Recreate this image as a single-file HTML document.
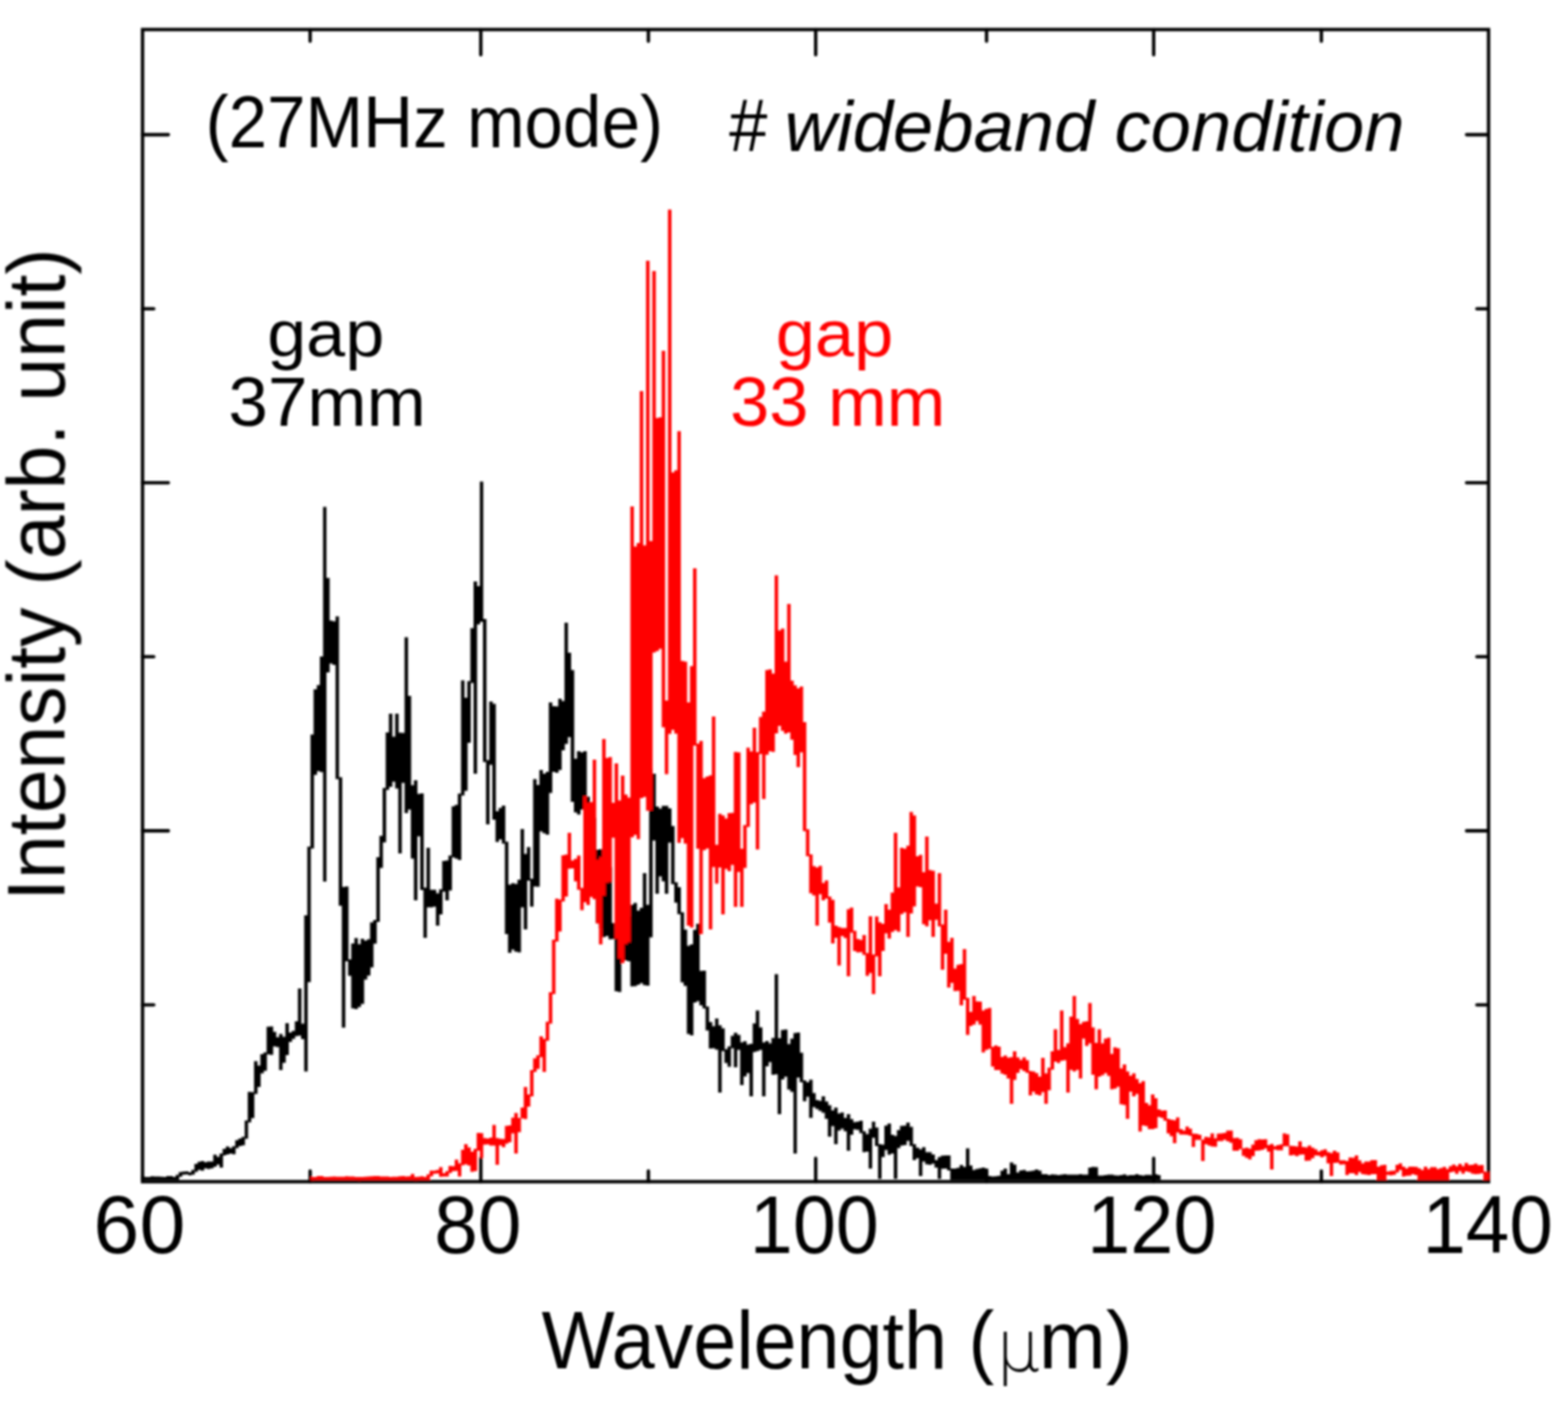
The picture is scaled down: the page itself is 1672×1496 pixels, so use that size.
<!DOCTYPE html>
<html><head><meta charset="utf-8"><title>Wavelength spectrum</title>
<style>
html,body{margin:0;padding:0;background:#fff;}
svg{display:block;}
text{font-family:"Liberation Sans",Arial,sans-serif;fill:#000;}
</style></head>
<body>
<svg width="1672" height="1496" viewBox="0 0 1672 1496">
<defs><filter id="soft" x="0" y="0" width="1672" height="1496" filterUnits="userSpaceOnUse"><feGaussianBlur stdDeviation="1.00"/></filter></defs>
<rect x="0" y="0" width="1672" height="1496" fill="#fff"/>
<g filter="url(#soft)">
<rect x="152.0" y="31.5" width="1435.3" height="1228.5" fill="none" stroke="#000" stroke-width="3.6"/>
<path d="M512.7 31.5V58.5M512.7 1260.0V1235.0M869.8 31.5V58.5M869.8 1260.0V1235.0M1230.2 31.5V58.5M1230.2 1260.0V1235.0M330.7 31.5V44.0M330.7 1260.0V1248.5M691.4 31.5V44.0M691.4 1260.0V1248.5M1052.0 31.5V44.0M1052.0 1260.0V1248.5M1409.0 31.5V44.0M1409.0 1260.0V1248.5M152.0 143.6H179.6M1587.3 143.6H1563.8M152.0 514.8H179.6M1587.3 514.8H1563.8M152.0 885.9H179.6M1587.3 885.9H1563.8M152.0 329.2H164.0M1587.3 329.2H1574.8M152.0 700.3H164.0M1587.3 700.3H1574.8M152.0 1071.5H164.0M1587.3 1071.5H1574.8" fill="none" stroke="#000" stroke-width="3.6" stroke-linecap="round"/>
<path d="M150.5 1254.2H154.2V1258.2H150.5ZM153.8 1255.0H157.5V1258.3H153.8ZM157.2 1254.9H160.9V1258.2H157.2ZM160.5 1254.3H164.2V1258.2H160.5ZM163.9 1254.6H167.6V1258.2H163.9ZM167.2 1254.6H170.9V1258.2H167.2ZM170.6 1254.8H174.3V1258.2H170.6ZM173.9 1254.9H177.6V1258.2H173.9ZM177.3 1254.1H180.9V1258.2H177.3ZM180.6 1254.0H184.3V1258.2H180.6ZM183.9 1255.0H187.6V1258.3H183.9ZM187.3 1252.8H191.0V1258.2H187.3ZM190.6 1249.8H194.3V1254.8H190.6ZM194.0 1249.2H197.7V1252.5H194.0ZM197.3 1248.9H201.0V1252.2H197.3ZM200.7 1249.9H204.4V1253.2H200.7ZM204.0 1247.4H207.7V1252.4H204.0ZM207.3 1241.1H211.0V1249.4H207.3ZM210.7 1238.7H214.4V1247.6H210.7ZM214.0 1238.1H217.7V1248.3H214.0ZM217.4 1239.2H221.1V1245.7H217.4ZM220.7 1238.6H224.4V1246.4H220.7ZM224.1 1238.6H227.8V1245.8H224.1ZM227.4 1231.2H231.1V1243.9H227.4ZM230.8 1233.5H234.4V1241.7H230.8ZM234.1 1230.1H237.8V1245.0H234.1ZM237.4 1225.0H241.1V1232.1H237.4ZM240.8 1222.4H244.5V1231.0H240.8ZM244.1 1224.2H247.8V1229.9H244.1ZM247.5 1222.3H251.2V1230.7H247.5ZM250.8 1215.7H254.5V1224.3H250.8ZM254.2 1214.0H257.9V1222.1H254.2ZM257.5 1212.3H261.2V1221.2H257.5ZM260.9 1194.8H264.5V1214.3H260.9ZM264.2 1164.3H267.9V1196.8H264.2ZM267.5 1164.6H271.2V1192.3H267.5ZM270.9 1131.6H274.6V1166.6H270.9ZM274.2 1136.3H277.9V1158.9H274.2ZM277.6 1124.0H281.3V1144.4H277.6ZM280.9 1122.3H284.6V1141.7H280.9ZM284.3 1094.7H288.0V1124.3H284.3ZM287.6 1094.4H291.3V1124.7H287.6ZM290.9 1100.3H294.6V1115.8H290.9ZM294.3 1105.9H298.0V1116.4H294.3ZM297.6 1102.4H301.3V1141.0H297.6ZM301.0 1105.5H304.7V1133.2H301.0ZM304.3 1090.9H308.0V1125.1H304.3ZM307.7 1100.9H311.4V1111.0H307.7ZM311.0 1099.3H314.7V1107.7H311.0ZM314.4 1089.0H318.1V1104.8H314.4ZM317.7 1054.0H321.4V1104.2H317.7ZM321.0 1091.6H324.7V1108.0H321.0ZM324.4 976.1H328.1V1142.6H324.4ZM327.7 902.7H331.4V1047.3H327.7ZM331.1 783.3H334.8V904.7H331.1ZM334.4 735.1H338.1V826.2H334.4ZM337.8 730.5H341.5V822.2H337.8ZM341.1 700.1H344.8V823.2H341.1ZM344.5 540.6H348.1V940.0H344.5ZM347.8 616.2H351.5V716.9H347.8ZM351.1 661.8H354.8V707.4H351.1ZM354.5 662.5H358.2V708.9H354.5ZM357.8 657.3H361.5V830.8H357.8ZM361.2 828.8H364.9V965.7H361.2ZM364.5 945.7H368.2V1095.7H364.5ZM367.9 945.2H371.6V1025.0H367.9ZM371.2 1023.0H374.9V1040.5H371.2ZM374.5 1006.1H378.2V1075.3H374.5ZM377.9 1000.2H381.6V1075.9H377.9ZM381.2 1006.8H384.9V1073.8H381.2ZM384.6 1001.0H388.3V1070.4H384.6ZM387.9 1003.1H391.6V1044.4H387.9ZM391.3 1001.4H395.0V1040.3H391.3ZM394.6 983.5H398.3V1031.5H394.6ZM398.0 980.9H401.7V1006.2H398.0ZM401.3 913.9H405.0V982.9H401.3ZM404.6 891.2H408.3V925.5H404.6ZM408.0 840.3H411.7V898.3H408.0ZM411.3 781.0H415.0V842.3H411.3ZM414.7 761.0H418.4V839.1H414.7ZM418.0 785.5H421.7V833.6H418.0ZM421.4 761.0H425.1V840.8H421.4ZM424.7 781.3H428.4V910.0H424.7ZM428.1 781.4H431.7V834.7H428.1ZM431.4 679.6H435.1V867.1H431.4ZM434.7 742.0H438.4V863.2H434.7ZM438.1 837.2H441.8V915.4H438.1ZM441.4 832.0H445.1V960.0H441.4ZM444.8 846.6H448.5V891.8H444.8ZM448.1 845.9H451.8V949.0H448.1ZM451.5 946.5H455.2V1000.0H451.5ZM454.8 904.0H458.5V967.4H454.8ZM458.1 948.7H461.8V967.5H458.1ZM461.5 948.7H465.2V966.8H461.5ZM464.8 952.5H468.5V987.0H464.8ZM468.2 948.2H471.9V974.9H468.2ZM471.5 917.9H475.2V950.7H471.5ZM474.9 917.4H478.6V960.0H474.9ZM478.2 912.2H481.9V949.5H478.2ZM481.6 859.8H485.2V914.2H481.6ZM484.9 858.3H488.6V915.4H484.9ZM488.2 846.2H491.9V916.9H488.2ZM491.6 725.6H495.3V848.2H491.6ZM494.9 743.9H498.6V843.3H494.9ZM498.3 726.2H502.0V792.0H498.3ZM501.6 669.7H505.3V728.2H501.6ZM505.0 619.9H508.7V825.0H505.0ZM508.3 625.1H512.0V665.8H508.3ZM511.7 513.4H515.3V663.1H511.7ZM515.0 659.9H518.7V812.5H515.0ZM518.3 810.5H522.0V879.0H518.3ZM521.7 748.1H525.4V815.5H521.7ZM525.0 750.4H528.7V874.0H525.0ZM528.4 864.9H532.1V897.8H528.4ZM531.7 861.4H535.4V895.1H531.7ZM535.1 859.1H538.8V899.6H535.1ZM538.4 897.6H542.1V996.0H538.4ZM541.7 943.2H545.4V1016.1H541.7ZM545.1 941.8H548.8V1012.6H545.1ZM548.4 942.6H552.1V1014.7H548.4ZM551.8 938.1H555.5V1015.4H551.8ZM555.1 884.0H558.8V967.6H555.1ZM558.5 910.6H562.2V991.0H558.5ZM561.8 903.2H565.5V938.9H561.8ZM565.2 936.9H568.9V966.7H565.2ZM568.5 830.7H572.2V945.2H568.5ZM571.8 837.1H575.5V945.5H571.8ZM575.2 821.1H578.9V886.5H575.2ZM578.5 825.0H582.2V888.6H578.5ZM581.9 823.1H585.6V890.0H581.9ZM585.2 749.0H588.9V845.6H585.2ZM588.6 753.0H592.3V822.9H588.6ZM591.9 753.3H595.6V823.9H591.9ZM595.3 745.0H598.9V820.9H595.3ZM598.6 747.4H602.3V799.9H598.6ZM601.9 664.0H605.6V793.2H601.9ZM605.3 696.0H609.0V786.0H605.3ZM608.6 714.4H612.3V855.0H608.6ZM612.0 808.9H615.7V866.2H612.0ZM615.3 801.0H619.0V868.5H615.3ZM618.7 802.2H622.4V863.3H618.7ZM622.0 800.9H625.7V861.8H622.0ZM625.3 849.4H629.0V873.7H625.3ZM628.7 871.7H632.4V923.4H628.7ZM632.0 872.3H635.7V921.7H632.0ZM635.4 905.9H639.1V984.1H635.4ZM638.7 905.4H642.4V989.9H638.7ZM642.1 930.8H645.8V999.3H642.1ZM645.4 927.4H649.1V998.0H645.4ZM648.8 924.8H652.5V1001.4H648.8ZM652.1 984.2H655.8V1001.3H652.1ZM655.4 998.7H659.1V1057.0H655.4ZM658.8 991.9H662.5V1057.8H658.8ZM662.1 983.8H665.8V1025.1H662.1ZM665.5 981.2H669.2V1024.0H665.5ZM668.8 977.3H672.5V1025.1H668.8ZM672.2 964.8H675.9V1051.8H672.2ZM675.5 962.7H679.2V1051.5H675.5ZM678.9 970.9H682.5V1050.0H678.9ZM682.2 967.9H685.9V1048.2H682.2ZM685.5 931.0H689.2V1050.5H685.5ZM688.9 964.8H692.6V1051.1H688.9ZM692.2 819.9H695.9V999.4H692.2ZM695.6 825.0H699.3V896.3H695.6ZM698.9 860.0H702.6V953.0H698.9ZM702.3 862.2H706.0V934.6H702.3ZM705.6 859.2H709.3V939.8H705.6ZM708.9 859.2H712.6V953.0H708.9ZM712.3 862.0H716.0V898.4H712.3ZM715.6 880.7H719.3V942.8H715.6ZM719.0 940.8H722.7V962.6H719.0ZM722.3 946.0H726.0V974.7H722.3ZM725.7 972.7H729.4V1047.5H725.7ZM729.0 991.2H732.7V1051.3H729.0ZM732.4 1008.5H736.1V1102.4H732.4ZM735.7 1007.0H739.4V1104.0H735.7ZM739.0 991.4H742.7V1069.1H739.0ZM742.4 985.0H746.1V1067.4H742.4ZM745.7 1035.3H749.4V1072.0H745.7ZM749.1 1035.0H752.8V1075.3H749.1ZM752.4 1073.3H756.1V1098.7H752.4ZM755.8 1089.8H759.5V1117.9H755.8ZM759.1 1094.2H762.8V1117.8H759.1ZM762.5 1086.0H766.1V1119.3H762.5ZM765.8 1093.2H769.5V1165.0H765.8ZM769.1 1096.6H772.8V1120.8H769.1ZM772.5 1118.8H776.2V1133.4H772.5ZM775.8 1115.7H779.5V1137.6H775.8ZM779.2 1104.5H782.9V1117.7H779.2ZM782.5 1101.3H786.2V1138.0H782.5ZM785.9 1103.6H789.6V1119.5H785.9ZM789.2 1111.6H792.9V1157.0H789.2ZM792.5 1110.3H796.2V1147.8H792.5ZM795.9 1113.8H799.6V1144.2H795.9ZM799.2 1113.1H802.9V1169.0H799.2ZM802.6 1091.2H806.3V1121.8H802.6ZM805.9 1077.6H809.6V1120.7H805.9ZM809.3 1095.5H813.0V1119.4H809.3ZM812.6 1111.5H816.3V1169.0H812.6ZM816.0 1110.0H819.7V1136.9H816.0ZM819.3 1112.6H823.0V1132.6H819.3ZM822.6 1106.8H826.3V1146.1H822.6ZM826.0 1038.8H829.7V1145.4H826.0ZM829.3 1107.1H833.0V1188.0H829.3ZM832.7 1098.3H836.4V1151.0H832.7ZM836.0 1097.7H839.7V1148.0H836.0ZM839.4 1113.2H843.1V1161.7H839.4ZM842.7 1107.5H846.4V1164.2H842.7ZM846.1 1101.4H849.7V1230.0H846.1ZM849.4 1101.0H853.1V1149.1H849.4ZM852.7 1122.4H856.4V1153.9H852.7ZM856.1 1151.9H859.8V1174.3H856.1ZM859.4 1154.0H863.1V1169.6H859.4ZM862.8 1151.2H866.5V1192.0H862.8ZM866.1 1165.5H869.8V1180.5H866.1ZM869.5 1173.1H873.2V1182.6H869.5ZM872.8 1173.8H876.5V1184.6H872.8ZM876.1 1169.1H879.8V1186.5H876.1ZM879.5 1174.6H883.2V1192.9H879.5ZM882.8 1178.5H886.5V1212.0H882.8ZM886.2 1183.9H889.9V1200.8H886.2ZM889.5 1181.0H893.2V1220.0H889.5ZM892.9 1187.2H896.6V1205.5H892.9ZM896.2 1186.3H899.9V1203.6H896.2ZM899.6 1192.1H903.2V1206.3H899.6ZM902.9 1188.0H906.6V1227.0H902.9ZM906.2 1193.2H909.9V1210.0H906.2ZM909.6 1196.5H913.3V1204.2H909.6ZM912.9 1196.0H916.6V1204.8H912.9ZM916.3 1195.0H920.0V1208.3H916.3ZM919.6 1206.3H923.3V1228.6H919.6ZM923.0 1209.2H926.7V1228.1H923.0ZM926.3 1203.5H930.0V1246.0H926.3ZM929.7 1195.9H933.3V1213.2H929.7ZM933.0 1202.2H936.7V1221.9H933.0ZM936.3 1219.9H940.0V1257.0H936.3ZM939.7 1220.5H943.4V1233.7H939.7ZM943.0 1200.2H946.7V1226.3H943.0ZM946.4 1198.0H950.1V1231.3H946.4ZM949.7 1210.0H953.4V1229.9H949.7ZM953.1 1211.3H956.8V1257.0H953.1ZM956.4 1205.0H960.1V1224.3H956.4ZM959.7 1200.4H963.4V1221.4H959.7ZM963.1 1200.3H966.8V1221.1H963.1ZM966.4 1197.0H970.1V1216.5H966.4ZM969.8 1201.4H973.5V1222.0H969.8ZM973.1 1220.0H976.8V1236.9H973.1ZM976.5 1223.8H980.2V1235.1H976.5ZM979.8 1225.4H983.5V1254.0H979.8ZM983.2 1223.2H986.9V1238.4H983.2ZM986.5 1228.6H990.2V1241.6H986.5ZM989.8 1228.6H993.5V1242.0H989.8ZM993.2 1230.9H996.9V1240.8H993.2ZM996.5 1236.9H1000.2V1245.0H996.5ZM999.9 1233.7H1003.6V1257.0H999.9ZM1003.2 1232.3H1006.9V1246.2H1003.2ZM1006.6 1231.9H1010.3V1246.0H1006.6ZM1009.9 1232.0H1013.6V1248.0H1009.9ZM1013.3 1245.9H1016.9V1258.2H1013.3ZM1016.6 1245.9H1020.3V1258.2H1016.6ZM1019.9 1245.3H1023.6V1258.2H1019.9ZM1023.3 1242.2H1027.0V1258.2H1023.3ZM1026.6 1244.3H1030.3V1258.2H1026.6ZM1030.0 1224.5H1033.7V1258.2H1030.0ZM1033.3 1242.7H1037.0V1258.2H1033.3ZM1036.7 1247.6H1040.4V1258.2H1036.7ZM1040.0 1246.5H1043.7V1258.2H1040.0ZM1043.3 1245.8H1047.0V1258.2H1043.3ZM1046.7 1245.0H1050.4V1258.2H1046.7ZM1050.0 1246.1H1053.7V1258.2H1050.0ZM1053.4 1253.9H1057.1V1258.2H1053.4ZM1056.7 1254.4H1060.4V1258.2H1056.7ZM1060.1 1254.3H1063.8V1258.2H1060.1ZM1063.4 1253.8H1067.1V1258.2H1063.4ZM1066.8 1248.2H1070.4V1258.2H1066.8ZM1070.1 1246.0H1073.8V1258.2H1070.1ZM1073.4 1252.1H1077.1V1258.2H1073.4ZM1076.8 1239.6H1080.5V1258.2H1076.8ZM1080.1 1241.7H1083.8V1258.2H1080.1ZM1083.5 1250.3H1087.2V1258.2H1083.5ZM1086.8 1248.0H1090.5V1258.2H1086.8ZM1090.2 1247.6H1093.9V1258.2H1090.2ZM1093.5 1249.1H1097.2V1258.2H1093.5ZM1096.9 1248.8H1100.5V1258.2H1096.9ZM1100.2 1248.2H1103.9V1258.2H1100.2ZM1103.5 1247.0H1107.2V1258.2H1103.5ZM1106.9 1248.3H1110.6V1258.2H1106.9ZM1110.2 1251.9H1113.9V1258.2H1110.2ZM1113.6 1251.9H1117.3V1258.2H1113.6ZM1116.9 1252.9H1120.6V1258.2H1116.9ZM1120.3 1252.3H1124.0V1258.2H1120.3ZM1123.6 1252.6H1127.3V1258.2H1123.6ZM1126.9 1252.9H1130.6V1258.2H1126.9ZM1130.3 1252.6H1134.0V1258.2H1130.3ZM1133.6 1252.1H1137.3V1258.2H1133.6ZM1137.0 1252.6H1140.7V1258.2H1137.0ZM1140.3 1252.4H1144.0V1258.2H1140.3ZM1143.7 1252.4H1147.4V1258.2H1143.7ZM1147.0 1252.4H1150.7V1258.2H1147.0ZM1150.4 1251.9H1154.0V1258.2H1150.4ZM1153.7 1252.4H1157.4V1258.2H1153.7ZM1157.0 1252.4H1160.7V1258.2H1157.0ZM1160.4 1245.1H1164.1V1258.2H1160.4ZM1163.7 1244.3H1167.4V1258.2H1163.7ZM1167.1 1244.6H1170.8V1258.2H1167.1ZM1170.4 1253.4H1174.1V1258.2H1170.4ZM1173.8 1253.5H1177.5V1258.2H1173.8ZM1177.1 1253.1H1180.8V1258.2H1177.1ZM1180.5 1252.6H1184.1V1258.2H1180.5ZM1183.8 1252.5H1187.5V1258.2H1183.8ZM1187.1 1253.3H1190.8V1258.2H1187.1ZM1190.5 1253.6H1194.2V1258.2H1190.5ZM1193.8 1253.0H1197.5V1258.2H1193.8ZM1197.2 1252.3H1200.9V1258.2H1197.2ZM1200.5 1253.5H1204.2V1258.2H1200.5ZM1203.9 1252.9H1207.6V1258.2H1203.9ZM1207.2 1252.9H1210.9V1258.2H1207.2ZM1210.5 1252.1H1214.2V1258.2H1210.5ZM1213.9 1252.9H1217.6V1258.2H1213.9ZM1217.2 1253.4H1220.9V1258.2H1217.2ZM1220.6 1252.8H1224.3V1258.2H1220.6ZM1223.9 1252.7H1227.6V1258.2H1223.9ZM1227.3 1253.2H1231.0V1258.2H1227.3ZM1230.6 1252.0H1234.3V1258.2H1230.6ZM1234.0 1252.9H1237.6V1258.2H1234.0Z" fill="#000"/>
<path d="M331.1 1255.1H334.8V1258.4H331.1ZM334.4 1255.0H338.1V1258.3H334.4ZM337.8 1254.1H341.5V1258.2H337.8ZM341.1 1254.1H344.8V1258.2H341.1ZM344.5 1255.0H348.1V1258.3H344.5ZM347.8 1254.9H351.5V1258.2H347.8ZM351.1 1254.8H354.8V1258.2H351.1ZM354.5 1254.4H358.2V1258.2H354.5ZM357.8 1254.8H361.5V1258.2H357.8ZM361.2 1254.8H364.9V1258.2H361.2ZM364.5 1254.7H368.2V1258.2H364.5ZM367.9 1254.2H371.6V1258.2H367.9ZM371.2 1254.5H374.9V1258.2H371.2ZM374.5 1254.5H378.2V1258.2H374.5ZM377.9 1254.9H381.6V1258.2H377.9ZM381.2 1255.1H384.9V1258.4H381.2ZM384.6 1255.0H388.3V1258.3H384.6ZM387.9 1254.7H391.6V1258.2H387.9ZM391.3 1254.6H395.0V1258.2H391.3ZM394.6 1254.3H398.3V1258.2H394.6ZM398.0 1254.0H401.7V1258.2H398.0ZM401.3 1254.0H405.0V1258.2H401.3ZM404.6 1254.6H408.3V1258.2H404.6ZM408.0 1254.4H411.7V1258.2H408.0ZM411.3 1254.5H415.0V1258.2H411.3ZM414.7 1255.0H418.4V1258.3H414.7ZM418.0 1254.7H421.7V1258.2H418.0ZM421.4 1254.7H425.1V1258.2H421.4ZM424.7 1254.3H428.4V1258.2H424.7ZM428.1 1254.0H431.7V1258.2H428.1ZM431.4 1254.4H435.1V1258.2H431.4ZM434.7 1254.2H438.4V1258.2H434.7ZM438.1 1251.8H441.8V1258.2H438.1ZM441.4 1255.1H445.1V1258.4H441.4ZM444.8 1254.8H448.5V1258.2H444.8ZM448.1 1254.2H451.8V1258.2H448.1ZM451.5 1255.0H455.2V1258.3H451.5ZM454.8 1252.2H458.5V1258.3H454.8ZM458.1 1248.2H461.8V1254.2H458.1ZM461.5 1248.3H465.2V1251.6H461.5ZM464.8 1247.6H468.5V1251.2H464.8ZM468.2 1244.6H471.9V1254.8H468.2ZM471.5 1251.1H475.2V1254.4H471.5ZM474.9 1248.8H478.6V1254.4H474.9ZM478.2 1243.3H481.9V1250.8H478.2ZM481.6 1243.4H485.3V1248.8H481.6ZM484.9 1236.5H488.6V1248.6H484.9ZM488.2 1240.5H491.9V1254.5H488.2ZM491.6 1225.9H495.3V1242.5H491.6ZM494.9 1220.0H498.6V1241.6H494.9ZM498.3 1223.5H502.0V1242.8H498.3ZM501.6 1228.1H505.3V1249.6H501.6ZM505.0 1224.9H508.7V1248.7H505.0ZM508.3 1208.0H512.0V1226.9H508.3ZM511.7 1208.3H515.3V1234.7H511.7ZM515.0 1213.5H518.7V1220.4H515.0ZM518.3 1214.0H522.0V1220.2H518.3ZM521.7 1212.9H525.4V1221.4H521.7ZM525.0 1199.6H528.7V1221.6H525.0ZM528.4 1213.4H532.1V1242.0H528.4ZM531.7 1214.2H535.4V1221.2H531.7ZM535.1 1214.5H538.8V1223.3H535.1ZM538.4 1200.6H542.1V1219.6H538.4ZM541.7 1199.9H545.4V1218.0H541.7ZM545.1 1191.7H548.8V1208.4H545.1ZM548.4 1186.7H552.1V1230.0H548.4ZM551.8 1191.9H555.5V1207.3H551.8ZM555.1 1181.1H558.8V1192.5H555.1ZM558.5 1159.0H562.2V1193.3H558.5ZM561.8 1166.9H565.5V1179.9H561.8ZM565.2 1141.0H568.9V1168.9H565.2ZM568.5 1128.4H572.2V1143.0H568.5ZM571.8 1125.3H575.5V1139.7H571.8ZM575.2 1105.1H578.9V1127.3H575.2ZM578.5 1107.8H582.2V1143.0H578.5ZM581.9 1089.4H585.6V1109.8H581.9ZM585.2 1058.1H588.9V1091.4H585.2ZM588.6 1001.9H592.3V1060.1H588.6ZM591.9 958.3H595.6V1003.9H591.9ZM595.3 959.3H598.9V993.3H595.3ZM598.6 912.0H602.3V961.3H598.6ZM601.9 911.3H605.6V956.0H601.9ZM605.3 888.0H609.0V926.2H605.3ZM608.6 917.6H612.3V926.1H608.6ZM612.0 915.8H615.7V939.7H612.0ZM615.3 912.3H619.0V948.7H615.3ZM618.7 946.7H622.4V970.4H618.7ZM622.0 848.9H625.7V962.0H622.0ZM625.3 855.9H629.0V964.9H625.3ZM628.7 855.3H632.4V956.5H628.7ZM632.0 810.0H635.7V958.7H632.0ZM635.4 916.6H639.1V984.7H635.4ZM638.7 913.5H642.4V1007.0H638.7ZM642.1 788.0H645.8V955.0H642.1ZM645.4 808.3H649.1V941.5H645.4ZM648.8 807.3H652.5V940.5H648.8ZM652.1 855.9H655.8V893.3H652.1ZM655.4 814.0H659.1V1001.1H655.4ZM658.8 853.4H662.5V1022.0H658.8ZM662.1 827.0H665.8V1027.0H662.1ZM665.5 847.3H669.2V1006.7H665.5ZM668.8 850.6H672.5V1004.8H668.8ZM672.2 540.0H675.9V892.7H672.2ZM675.5 582.8H679.2V890.3H675.5ZM678.9 579.0H682.5V894.7H678.9ZM682.2 417.0H685.9V851.0H682.2ZM685.5 581.5H689.2V849.8H685.5ZM688.9 278.0H692.6V864.4H688.9ZM692.2 577.1H695.9V864.0H692.2ZM695.6 289.0H699.3V695.8H695.6ZM698.9 445.8H702.6V694.2H698.9ZM702.3 444.9H706.0V691.8H702.3ZM705.6 374.0H709.3V775.4H705.6ZM708.9 746.9H712.6V825.4H708.9ZM712.3 223.5H716.0V782.5H712.3ZM715.6 503.8H719.3V778.3H715.6ZM719.0 501.6H722.7V782.2H719.0ZM722.3 459.7H726.0V898.7H722.3ZM725.7 704.7H729.4V893.7H725.7ZM729.0 705.5H732.7V899.4H729.0ZM732.4 748.9H736.1V987.0H732.4ZM735.7 710.2H739.4V989.0H735.7ZM739.0 606.0H742.7V794.9H739.0ZM742.4 792.9H746.1V904.9H742.4ZM745.7 790.1H749.4V996.0H745.7ZM749.1 829.7H752.8V906.6H749.1ZM752.4 827.9H756.1V904.7H752.4ZM755.8 826.7H759.5V991.0H755.8ZM759.1 764.0H762.8V924.6H759.1ZM762.5 900.7H766.1V942.2H762.5ZM765.8 867.7H769.5V924.9H765.8ZM769.1 869.5H772.8V975.0H769.1ZM772.5 872.8H776.2V926.4H772.5ZM775.8 867.1H779.5V928.9H775.8ZM779.2 866.7H782.9V922.3H779.2ZM782.5 801.8H786.2V967.0H782.5ZM785.9 802.2H789.6V929.8H785.9ZM789.2 904.9H792.9V967.0H789.2ZM792.5 879.7H796.2V925.5H792.5ZM795.9 797.2H799.6V881.7H795.9ZM799.2 801.2H802.9V857.6H799.2ZM802.6 776.0H806.3V855.7H802.6ZM805.9 802.0H809.6V905.8H805.9ZM809.3 764.4H813.0V804.0H809.3ZM812.6 758.7H816.3V852.0H812.6ZM816.0 714.4H819.7V804.7H816.0ZM819.3 713.8H823.0V800.9H819.3ZM822.6 718.3H826.3V801.7H822.6ZM826.0 613.5H829.7V782.1H826.0ZM829.3 672.2H833.0V774.0H829.3ZM832.7 670.3H836.4V779.2H832.7ZM836.0 705.6H839.7V782.2H836.0ZM839.4 644.0H843.1V781.1H839.4ZM842.7 725.8H846.4V788.8H842.7ZM846.1 730.7H849.7V804.9H846.1ZM849.4 734.0H853.1V818.0H849.4ZM852.7 731.9H856.4V802.3H852.7ZM856.1 770.0H859.8V886.2H856.1ZM859.4 884.2H863.1V913.1H859.4ZM862.8 911.1H866.5V952.4H862.8ZM866.1 923.4H869.8V954.7H866.1ZM869.5 925.1H873.2V987.0H869.5ZM872.8 923.3H876.5V953.4H872.8ZM876.1 941.6H879.8V960.0H876.1ZM879.5 938.8H883.2V958.0H879.5ZM882.8 956.0H886.5V983.7H882.8ZM886.2 959.4H889.9V1006.0H886.2ZM889.5 986.9H893.2V1000.0H889.5ZM892.9 988.4H896.6V1029.5H892.9ZM896.2 989.5H899.9V997.9H896.2ZM899.6 989.5H903.3V1000.2H899.6ZM902.9 969.5H906.6V1041.0H902.9ZM906.2 967.8H909.9V994.6H906.2ZM909.6 992.6H913.3V1014.1H909.6ZM912.9 1001.3H916.6V1015.5H912.9ZM916.3 1002.3H920.0V1015.2H916.3ZM919.6 997.0H923.3V1018.2H919.6ZM923.0 1016.2H926.7V1040.5H923.0ZM926.3 977.0H930.0V1037.4H926.3ZM929.7 1017.7H933.3V1060.0H929.7ZM933.0 977.2H936.7V1019.7H933.0ZM936.3 983.6H940.0V1041.0H936.3ZM939.7 985.1H943.4V1014.0H939.7ZM943.0 963.9H946.7V995.2H943.0ZM946.4 969.9H950.1V1000.7H946.4ZM949.7 951.7H953.4V993.7H949.7ZM953.1 888.0H956.8V991.8H953.1ZM956.4 946.2H960.1V993.5H956.4ZM959.7 903.9H963.4V974.7H959.7ZM963.1 905.1H966.8V972.8H963.1ZM966.4 901.8H970.1V999.0H966.4ZM969.8 865.7H973.5V974.0H969.8ZM973.1 869.4H976.8V966.5H973.1ZM976.5 912.9H980.2V945.2H976.5ZM979.8 911.4H983.5V945.9H979.8ZM983.2 930.0H986.9V985.6H983.2ZM986.5 892.0H990.2V987.8H986.5ZM989.8 927.7H993.5V981.2H989.8ZM993.2 928.6H996.9V999.0H993.2ZM996.5 963.4H1000.2V980.7H996.5ZM999.9 931.0H1003.6V987.7H999.9ZM1003.2 985.7H1006.9V1034.0H1003.2ZM1006.6 970.0H1010.3V1017.1H1006.6ZM1009.9 1004.2H1013.6V1053.0H1009.9ZM1013.3 1000.1H1016.9V1048.0H1013.3ZM1016.6 1032.7H1020.3V1056.7H1016.6ZM1019.9 1028.8H1023.6V1056.6H1019.9ZM1023.3 1028.0H1027.0V1072.0H1023.3ZM1026.6 1012.0H1030.3V1066.1H1026.6ZM1030.0 1064.1H1033.7V1103.5H1030.0ZM1033.3 1078.9H1037.0V1094.0H1033.3ZM1036.7 1062.0H1040.4V1092.5H1036.7ZM1040.0 1067.8H1043.7V1088.8H1040.0ZM1043.3 1067.9H1047.0V1092.5H1043.3ZM1046.7 1077.6H1050.4V1122.2H1046.7ZM1050.0 1075.7H1053.7V1119.5H1050.0ZM1053.4 1074.8H1057.1V1118.3H1053.4ZM1056.7 1116.3H1060.4V1137.3H1056.7ZM1060.1 1114.8H1063.8V1140.9H1060.1ZM1063.4 1116.1H1067.1V1140.9H1063.4ZM1066.8 1126.9H1070.4V1144.8H1066.8ZM1070.1 1125.5H1073.8V1146.0H1070.1ZM1073.4 1127.7H1077.1V1149.9H1073.4ZM1076.8 1127.2H1080.5V1177.0H1076.8ZM1080.1 1121.0H1083.8V1151.6H1080.1ZM1083.5 1127.4H1087.2V1144.1H1083.5ZM1086.8 1130.3H1090.5V1140.1H1086.8ZM1090.2 1127.4H1093.9V1141.9H1090.2ZM1093.5 1130.5H1097.2V1143.9H1093.5ZM1096.9 1141.9H1100.5V1167.9H1096.9ZM1100.2 1142.6H1103.9V1164.1H1100.2ZM1103.5 1144.3H1107.2V1166.9H1103.5ZM1106.9 1147.9H1110.6V1168.0H1106.9ZM1110.2 1128.0H1113.9V1164.5H1110.2ZM1113.6 1144.5H1117.3V1177.0H1113.6ZM1116.9 1138.6H1120.6V1162.4H1116.9ZM1120.3 1120.9H1124.0V1140.6H1120.3ZM1123.6 1097.5H1127.3V1131.9H1123.6ZM1126.9 1119.6H1130.6V1133.4H1126.9ZM1130.3 1077.6H1134.0V1130.9H1130.3ZM1133.6 1116.6H1137.3V1130.5H1133.6ZM1137.0 1112.5H1140.7V1165.0H1137.0ZM1140.3 1084.0H1144.0V1140.7H1140.3ZM1143.7 1062.0H1147.4V1142.4H1143.7ZM1147.0 1086.6H1150.7V1140.8H1147.0ZM1150.4 1091.9H1154.0V1150.0H1150.4ZM1153.7 1089.5H1157.4V1107.6H1153.7ZM1157.0 1089.0H1160.7V1115.3H1157.0ZM1160.4 1069.5H1164.1V1112.5H1160.4ZM1163.7 1095.6H1167.4V1146.0H1163.7ZM1167.1 1111.9H1170.8V1161.5H1167.1ZM1170.4 1097.5H1174.1V1147.9H1170.4ZM1173.8 1112.5H1177.5V1146.5H1173.8ZM1177.1 1107.6H1180.8V1144.3H1177.1ZM1180.5 1106.4H1184.1V1147.2H1180.5ZM1183.8 1123.8H1187.5V1161.6H1183.8ZM1187.1 1116.8H1190.8V1160.7H1187.1ZM1190.5 1117.8H1194.2V1158.7H1190.5ZM1193.8 1139.3H1197.5V1177.4H1193.8ZM1197.2 1135.0H1200.9V1178.3H1197.2ZM1200.5 1142.5H1204.2V1193.0H1200.5ZM1203.9 1146.9H1207.6V1164.0H1203.9ZM1207.2 1144.5H1210.9V1168.9H1207.2ZM1210.5 1150.6H1214.2V1166.6H1210.5ZM1213.9 1155.0H1217.6V1206.4H1213.9ZM1217.2 1152.7H1220.9V1200.0H1217.2ZM1220.6 1176.0H1224.3V1200.7H1220.6ZM1223.9 1178.5H1227.6V1204.0H1223.9ZM1227.3 1167.0H1231.0V1204.1H1227.3ZM1230.6 1170.9H1234.3V1202.9H1230.6ZM1234.0 1183.1H1237.7V1191.0H1234.0ZM1237.3 1184.2H1241.0V1191.9H1237.3ZM1240.6 1183.9H1244.3V1195.1H1240.6ZM1244.0 1193.1H1247.7V1208.5H1244.0ZM1247.3 1193.9H1251.0V1211.5H1247.3ZM1250.7 1194.4H1254.4V1219.0H1250.7ZM1254.0 1191.4H1257.7V1207.4H1254.0ZM1257.4 1204.0H1261.1V1209.7H1257.4ZM1260.7 1205.4H1264.4V1209.7H1260.7ZM1264.1 1201.2H1267.7V1210.1H1264.1ZM1267.4 1203.4H1271.1V1211.0H1267.4ZM1270.7 1208.7H1274.4V1223.0H1270.7ZM1274.1 1208.9H1277.8V1215.4H1274.1ZM1277.4 1209.9H1281.1V1215.5H1277.4ZM1280.8 1215.2H1284.5V1238.0H1280.8ZM1284.1 1212.2H1287.8V1220.0H1284.1ZM1287.5 1212.8H1291.2V1221.4H1287.5ZM1290.8 1208.5H1294.5V1222.5H1290.8ZM1294.1 1213.7H1297.8V1222.8H1294.1ZM1297.5 1208.7H1301.2V1216.7H1297.5ZM1300.8 1208.5H1304.5V1216.8H1300.8ZM1304.2 1207.9H1307.9V1215.3H1304.2ZM1307.5 1205.6H1311.2V1216.9H1307.5ZM1310.9 1205.6H1314.6V1218.5H1310.9ZM1314.2 1213.5H1317.9V1227.0H1314.2ZM1317.6 1213.2H1321.2V1227.0H1317.6ZM1320.9 1214.7H1324.6V1225.2H1320.9ZM1324.2 1224.4H1327.9V1232.4H1324.2ZM1327.6 1223.7H1331.3V1234.4H1327.6ZM1330.9 1224.7H1334.6V1236.2H1330.9ZM1334.3 1220.5H1338.0V1232.8H1334.3ZM1337.6 1215.8H1341.3V1227.1H1337.6ZM1341.0 1214.7H1344.7V1226.7H1341.0ZM1344.3 1214.9H1348.0V1226.1H1344.3ZM1347.7 1214.8H1351.3V1224.4H1347.7ZM1351.0 1220.9H1354.7V1228.0H1351.0ZM1354.3 1219.7H1358.0V1247.0H1354.3ZM1357.7 1222.2H1361.4V1225.8H1357.7ZM1361.0 1221.0H1364.7V1226.4H1361.0ZM1364.4 1220.3H1368.1V1226.5H1364.4ZM1367.7 1208.6H1371.4V1222.3H1367.7ZM1371.1 1209.4H1374.8V1222.2H1371.1ZM1374.4 1221.8H1378.1V1231.9H1374.4ZM1377.7 1222.0H1381.4V1231.4H1377.7ZM1381.1 1222.4H1384.8V1232.7H1381.1ZM1384.4 1217.0H1388.1V1231.3H1384.4ZM1387.8 1223.0H1391.5V1231.0H1387.8ZM1391.1 1223.6H1394.8V1237.8H1391.1ZM1394.5 1221.5H1398.2V1237.4H1394.5ZM1397.8 1223.8H1401.5V1235.1H1397.8ZM1401.2 1225.6H1404.8V1232.1H1401.2ZM1404.5 1227.9H1408.2V1232.3H1404.5ZM1407.8 1226.4H1411.5V1234.1H1407.8ZM1411.2 1225.6H1414.9V1232.5H1411.2ZM1414.5 1228.6H1418.2V1240.6H1414.5ZM1417.9 1229.6H1421.6V1254.0H1417.9ZM1421.2 1227.1H1424.9V1239.9H1421.2ZM1424.6 1228.7H1428.3V1239.7H1424.6ZM1427.9 1237.2H1431.6V1241.8H1427.9ZM1431.3 1237.3H1434.9V1241.5H1431.3ZM1434.6 1238.1H1438.3V1253.1H1434.6ZM1437.9 1234.2H1441.6V1250.9H1437.9ZM1441.3 1234.6H1445.0V1251.0H1441.3ZM1444.6 1232.0H1448.3V1253.1H1444.6ZM1448.0 1237.2H1451.7V1249.8H1448.0ZM1451.3 1240.4H1455.0V1252.0H1451.3ZM1454.7 1238.5H1458.4V1252.6H1454.7ZM1458.0 1238.6H1461.7V1253.1H1458.0ZM1461.3 1237.1H1465.0V1251.9H1461.3ZM1464.7 1237.1H1468.4V1251.9H1464.7ZM1468.0 1244.0H1471.7V1258.2H1468.0ZM1471.4 1242.6H1475.1V1258.2H1471.4ZM1474.7 1241.9H1478.4V1258.2H1474.7ZM1478.1 1249.2H1481.8V1252.8H1478.1ZM1481.4 1248.4H1485.1V1253.3H1481.4ZM1484.8 1248.2H1488.5V1252.8H1484.8ZM1488.1 1242.0H1491.8V1250.2H1488.1ZM1491.4 1240.6H1495.1V1247.5H1491.4ZM1494.8 1244.0H1498.5V1254.5H1494.8ZM1498.1 1246.0H1501.8V1253.8H1498.1ZM1501.5 1244.1H1505.2V1253.4H1501.5ZM1504.8 1243.9H1508.5V1252.0H1504.8ZM1508.2 1244.2H1511.9V1253.0H1508.2ZM1511.5 1245.8H1515.2V1258.2H1511.5ZM1514.9 1247.6H1518.5V1258.2H1514.9ZM1518.2 1244.1H1521.9V1258.2H1518.2ZM1521.5 1246.5H1525.2V1258.2H1521.5ZM1524.9 1244.6H1528.6V1258.2H1524.9ZM1528.2 1244.6H1531.9V1258.2H1528.2ZM1531.6 1246.6H1535.3V1258.2H1531.6ZM1534.9 1245.6H1538.6V1258.2H1534.9ZM1538.3 1244.3H1542.0V1258.2H1538.3ZM1541.6 1246.5H1545.3V1258.2H1541.6ZM1544.9 1243.4H1548.6V1249.9H1544.9ZM1548.3 1241.8H1552.0V1249.3H1548.3ZM1551.6 1243.4H1555.3V1251.7H1551.6ZM1555.0 1241.1H1558.7V1248.7H1555.0ZM1558.3 1243.4H1562.0V1251.6H1558.3ZM1561.7 1240.0H1565.4V1249.1H1561.7ZM1565.0 1242.2H1568.7V1249.7H1565.0ZM1568.4 1241.9H1572.0V1251.4H1568.4ZM1571.7 1240.8H1575.4V1252.1H1571.7ZM1575.0 1242.5H1578.7V1251.8H1575.0ZM1578.4 1242.3H1582.1V1250.9H1578.4ZM1581.7 1249.3H1585.4V1258.2H1581.7ZM1585.1 1251.0H1587.0V1258.2H1585.1ZM1588.4 1249.2H1587.0V1258.2H1588.4Z" fill="#ff0000"/>
<text x="219.2" y="157.4" font-size="77.0" textLength="487.8" lengthAdjust="spacingAndGlyphs">(27MHz mode)</text>
<text x="777.6" y="161.0" font-size="79.0" textLength="40.8" lengthAdjust="spacingAndGlyphs">#</text>
<text x="836.4" y="161.0" font-size="76.0" textLength="661.2" lengthAdjust="spacingAndGlyphs" font-style="italic">wideband condition</text>
<text x="285.1" y="380.3" font-size="71.0" textLength="124.6" lengthAdjust="spacingAndGlyphs">gap</text>
<text x="243.5" y="454.1" font-size="75.0" textLength="210.5" lengthAdjust="spacingAndGlyphs">37mm</text>
<text x="827.3" y="380.3" font-size="71.0" textLength="125.3" lengthAdjust="spacingAndGlyphs" style="fill:#ff0000">gap</text>
<text x="778.5" y="454.1" font-size="75.0" textLength="229.6" lengthAdjust="spacingAndGlyphs" style="fill:#ff0000">33 mm</text>
<text x="99.6" y="1335.5" font-size="88.0" textLength="98.1" lengthAdjust="spacingAndGlyphs">60</text>
<text x="462.9" y="1335.5" font-size="88.0" textLength="93.1" lengthAdjust="spacingAndGlyphs">80</text>
<text x="799.6" y="1335.5" font-size="88.0" textLength="137.5" lengthAdjust="spacingAndGlyphs">100</text>
<text x="1159.3" y="1335.5" font-size="88.0" textLength="138.0" lengthAdjust="spacingAndGlyphs">120</text>
<text x="1516.7" y="1335.5" font-size="88.0" textLength="139.3" lengthAdjust="spacingAndGlyphs">140</text>
<text x="577.4" y="1459.0" font-size="88.0" textLength="482.9" lengthAdjust="spacingAndGlyphs">Wavelength (</text>
<text x="1062.6" y="1462.3" font-size="76.0" textLength="46.3" lengthAdjust="spacingAndGlyphs" style="font-family:'DejaVu Sans',sans-serif;font-weight:200">μ</text>
<text x="1107.7" y="1459.0" font-size="88.0" textLength="100.0" lengthAdjust="spacingAndGlyphs">m)</text>
<text transform="translate(68.7 960.6) rotate(-90)" x="0" y="0" font-size="88" textLength="695.7" lengthAdjust="spacingAndGlyphs">Intensity (arb. unit)</text>
</g>
</svg>
</body></html>
